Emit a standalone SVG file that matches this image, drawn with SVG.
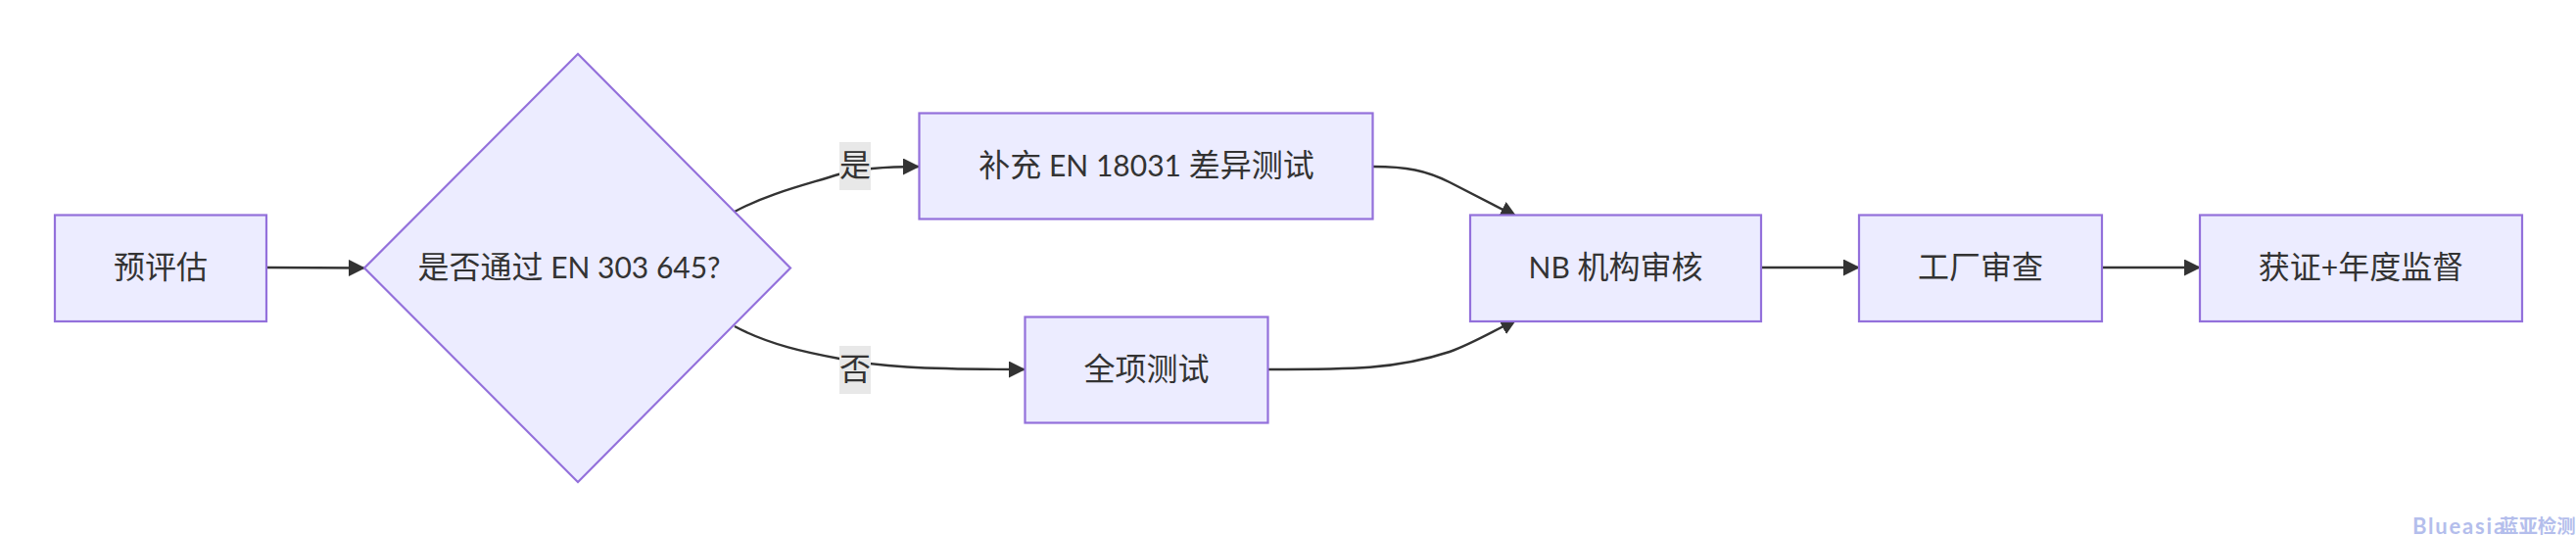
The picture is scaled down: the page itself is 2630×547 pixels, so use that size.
<svg xmlns="http://www.w3.org/2000/svg" width="2630" height="547" viewBox="0 0 2630 547">
<style>
.n{fill:#ECECFF;stroke:#9370DB;stroke-width:2.2}
.t{font-family:"Lato","Noto Sans CJK SC",sans-serif;font-size:32px;fill:#333;text-anchor:middle}
.t tspan{font-size:30px}
.e{fill:none;stroke:#333;stroke-width:2.4}
.lb{fill:#e8e8e8}
.w{font-family:"Lato","Noto Sans CJK SC",sans-serif;font-weight:700;fill:#b4beec;font-size:22px;letter-spacing:1.8px}
.w tspan{font-size:19.400px;letter-spacing:0}
</style>
<defs><marker id="a" markerUnits="userSpaceOnUse" markerWidth="17" markerHeight="17" refX="16" refY="8.5" orient="auto" viewBox="0 0 17 17"><path d="M0,0L17,8.5L0,17z" fill="#333"/></marker></defs>
<rect width="2630" height="547" fill="#fff"/>
<g id="connectors">
<path class="e" marker-end="url(#a)" d="M273,273 L372,273.5"/>
<path class="e" marker-end="url(#a)" d="M750,216 C785,197 825,188 856,178 C870,174 895,170 938,170"/>
<path class="e" marker-end="url(#a)" d="M750,333 C785,352 825,360 857,366 C895,374 940,377 1046,377"/>
<path class="e" marker-end="url(#a)" d="M1402,170 C1436,170 1456,174 1480,186 L1548,221"/>
<path class="e" marker-end="url(#a)" d="M1295,377 C1380,377 1425,377 1480,359 C1500,352 1520,341 1548,326"/>
<path class="e" marker-end="url(#a)" d="M1798,273 L1898,273"/>
<path class="e" marker-end="url(#a)" d="M2146,273 L2246,273"/>
</g>
<g id="edge-yes"><rect class="lb" x="857" y="145" width="32" height="49"/><text class="t" x="873" y="180">是</text></g>
<g id="edge-no"><rect class="lb" x="857" y="353" width="32" height="49"/><text class="t" x="873" y="388">否</text></g>
<g id="n1"><rect class="n" x="56" y="219.500" width="216" height="108.500"/><text class="t" x="164" y="284">预评估</text></g>
<g id="n2"><polygon class="n" points="590,55 807,273.500 590,492 372,273.500"/><text class="t" x="581" y="284">是否通过<tspan> EN 303 645?</tspan></text></g>
<g id="n3"><rect class="n" x="938.500" y="115.500" width="463" height="108"/><text class="t" x="1170.500" y="180">补充<tspan> EN 18031 </tspan>差异测试</text></g>
<g id="n4"><rect class="n" x="1046.500" y="323.500" width="248" height="108"/><text class="t" x="1170.500" y="388">全项测试</text></g>
<g id="n5"><rect class="n" x="1501" y="219.500" width="297" height="108.500"/><text class="t" x="1649.500" y="284"><tspan>NB </tspan>机构审核</text></g>
<g id="n6"><rect class="n" x="1898" y="219.500" width="248" height="108.500"/><text class="t" x="2022" y="284">工厂审查</text></g>
<g id="n7"><rect class="n" x="2246" y="219.500" width="329" height="108.500"/><text class="t" x="2410.500" y="284">获证<tspan>+</tspan>年度监督</text></g>
<text class="w" x="2463" y="545">Blueasia<tspan x="2552" y="543.500">蓝亚检测</tspan></text>
</svg>
